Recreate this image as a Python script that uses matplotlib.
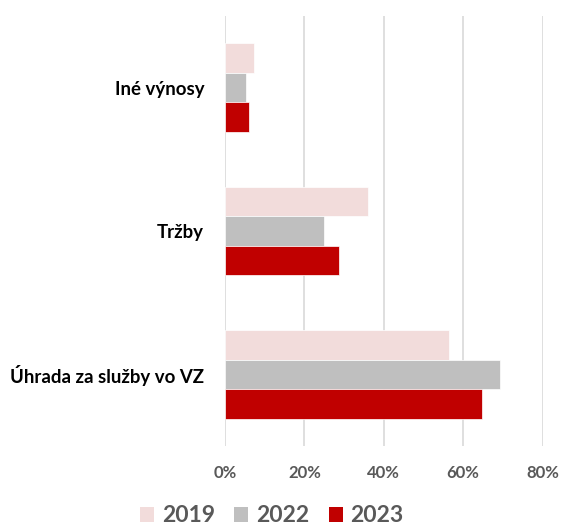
import matplotlib
matplotlib.use("Agg")
import matplotlib.pyplot as plt
from matplotlib.patches import Patch
import numpy as np

categories = ["Iné výnosy", "Tržby", "Úhrada za služby vo VZ"]
years = ["2019", "2022", "2023"]
v2019 = [7.4, 36.0, 56.5]
v2022 = [5.3, 25.0, 69.3]
v2023 = [6.1, 28.8, 64.8]
ticks = [0, 20, 40, 60, 80]
tick_labels = ["0%", "20%", "40%", "60%", "80%"]

colors = ["#f2dcdb", "#bfbfbf", "#c00000"]
series = [v2019, v2022, v2023]

plt.rcParams['font.family'] = ['Lato', 'DejaVu Sans']

fig = plt.figure(figsize=(5.63, 5.27), dpi=100)
ax = fig.add_axes([225/563, 81/527, 317.5/563, 430/527])

h = 0.206
y = np.arange(len(categories))
for j, (vals, c) in enumerate(zip(series, colors)):
    ax.barh(y + (j - 1) * h, vals, height=h, color=c, edgecolor="white",
            linewidth=0.5, zorder=3)

ax.set_xlim(0, 80)
ax.set_ylim(2.5, -0.5)
ax.set_xticks(ticks)
ax.set_xticklabels(tick_labels, fontsize=12, fontweight="bold", color="#595959")
ax.set_yticks(y)
ax.set_yticklabels(categories, fontsize=13.4, fontweight="bold", color="#000000")
ax.tick_params(axis="x", length=0, pad=14)
ax.tick_params(axis="y", length=0, pad=15)
ax.grid(axis="x", color="#d9d9d9", linewidth=1.2, zorder=0)
for s in ax.spines.values():
    s.set_visible(False)

handles = [Patch(facecolor=c, edgecolor="none") for c in colors]
fig.legend(handles, years, loc="center", bbox_to_anchor=(272/563, 1 - 516/527),
           ncol=3, frameon=False,
           prop={"weight": "bold", "size": 16.5},
           handlelength=0.6, handleheight=0.6, handletextpad=0.35,
           columnspacing=0.85, labelcolor="#595959")

fig.savefig("out.png", dpi=100)
